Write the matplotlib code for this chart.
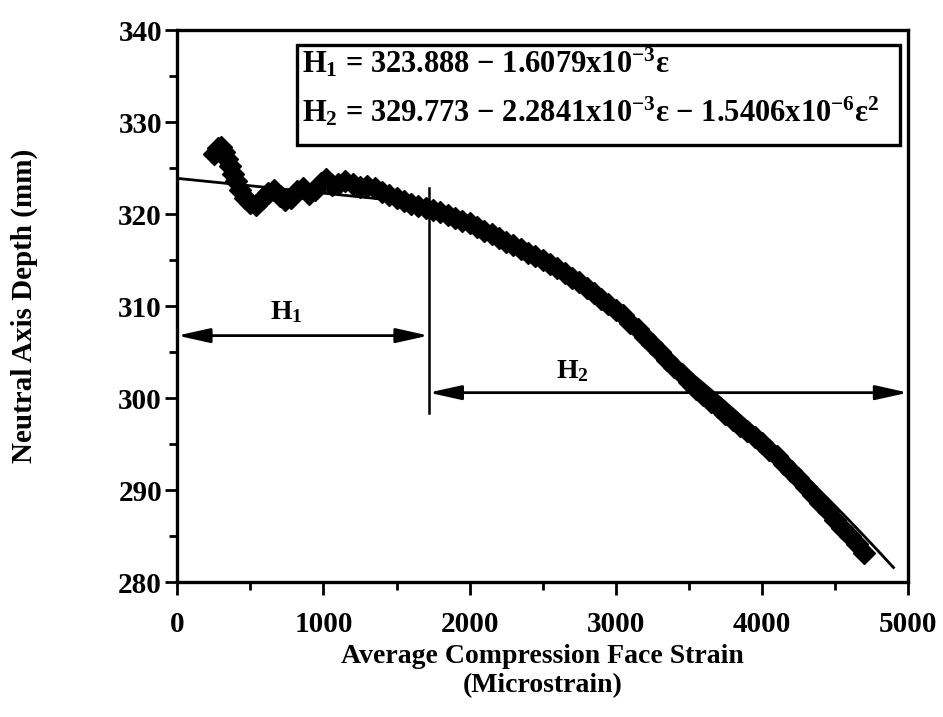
import numpy as np
import matplotlib.pyplot as plt
from matplotlib.patches import Rectangle
from matplotlib.ticker import MultipleLocator

# measured neutral axis depth vs. compression face strain
strain = [250, 280, 300, 320, 340, 360, 380, 400, 430, 460, 500, 540, 580, 620,
          660, 700, 740, 780, 820, 860, 900, 940, 980, 1020, 1060, 1100, 1150,
          1200, 1250, 1300, 1350, 1400, 1450, 1500, 1550, 1600, 1650, 1700,
          1750, 1800, 1850, 1900, 1950, 2000, 2050, 2100, 2150, 2200, 2250,
          2300, 2350, 2400, 2450, 2500, 2550, 2600, 2650, 2700, 2750, 2800,
          2850, 2900, 2950, 3000, 3050, 3100, 3150, 3200, 3250, 3300, 3350,
          3400, 3450, 3500, 3550, 3600, 3650, 3700, 3750, 3800, 3850, 3900,
          3950, 4000, 4050, 4100, 4150, 4200, 4250, 4300, 4350, 4400, 4450,
          4500, 4550, 4600, 4650, 4700]
depth = [326.5, 327.2, 327.3, 326.8, 326.0, 325.2, 324.4, 323.6, 322.6, 321.8,
         321.2, 321.0, 321.6, 322.3, 322.6, 322.0, 321.5, 321.8, 322.5, 322.8,
         322.2, 322.6, 323.4, 323.8, 323.2, 323.3, 323.6, 323.3, 323.0, 323.1,
         322.8, 322.4, 322.1, 321.8, 321.4, 321.1, 320.9, 320.7, 320.4, 320.2,
         319.9, 319.6, 319.3, 319.0, 318.6, 318.2, 317.8, 317.4, 317.0, 316.6,
         316.2, 315.8, 315.4, 315.0, 314.6, 314.1, 313.6, 313.1, 312.6, 312.0,
         311.4, 310.8, 310.2, 309.6, 309.0, 308.2, 307.5, 306.7, 305.9, 305.0,
         304.2, 303.4, 302.6, 301.8, 301.0, 300.3, 299.6, 299.0, 298.3, 297.6,
         297.0, 296.4, 295.8, 295.1, 294.4, 293.7, 292.9, 292.1, 291.3, 290.4,
         289.5, 288.6, 287.7, 286.8, 285.9, 285.0, 284.1, 283.2]

# fitted coefficients
h1_coef = [323.888, -1.6079e-3]
h2_coef = [329.773, -2.2841e-3, -1.5406e-6]
split = 1720
h2_end = 4900

eq_lines = ['H$_1$ = 323.888 \u2212 1.6079x10$^{-3}$\u03b5',
            'H$_2$ = 329.773 \u2212 2.2841x10$^{-3}$\u03b5 \u2212 1.5406x10$^{-6}$\u03b5$^2$']

plt.rcParams['font.family'] = ['Liberation Serif', 'DejaVu Serif']
plt.rcParams['font.weight'] = 'bold'
plt.rcParams['mathtext.fontset'] = 'custom'
plt.rcParams['mathtext.rm'] = 'Liberation Serif:bold'
plt.rcParams['mathtext.it'] = 'Liberation Serif:bold:italic'
plt.rcParams['mathtext.bf'] = 'Liberation Serif:bold'

fig = plt.figure(figsize=(9.43, 7.17), dpi=100)
ax = fig.add_axes([0.188, 0.188, 0.775, 0.770])

ax.plot(strain, depth, 'D', color='black', ms=11, zorder=3)

e1 = np.linspace(0, split, 50)
ax.plot(e1, h1_coef[0] + h1_coef[1] * e1, color='black', lw=2, zorder=4)
e2 = np.linspace(split, h2_end, 200)
ax.plot(e2, h2_coef[0] + h2_coef[1] * e2 + h2_coef[2] * e2 ** 2,
        color='black', lw=2, zorder=4)

# range markers for the two fits
ax.plot([split, split], [298.4, 322.8], color='black', lw=1.8, zorder=4)
arrow = dict(arrowstyle='<|-|>,head_length=0.9,head_width=0.2', color='black',
             lw=2, mutation_scale=22, shrinkA=0, shrinkB=0)
ax.annotate('', xy=(0, 306.8), xytext=(split, 306.8), arrowprops=arrow)
ax.annotate('', xy=(split, 300.6), xytext=(5000, 300.6), arrowprops=arrow)
ax.text(745, 309.3, 'H$_1$', fontsize=20, ha='center', va='center')
ax.text(2700, 302.9, 'H$_2$', fontsize=20, ha='center', va='center')

# equation box
ax.add_patch(Rectangle((0.164, 0.792), 0.825, 0.181, transform=ax.transAxes,
                       fc='white', ec='black', lw=2.4, zorder=5))
ax.text(0.171, 0.924, eq_lines[0], transform=ax.transAxes, fontsize=22,
        va='baseline', ha='left', zorder=6)
ax.text(0.171, 0.834, eq_lines[1], transform=ax.transAxes, fontsize=22,
        va='baseline', ha='left', zorder=6)

ax.set_xlim(0, 5000)
ax.set_ylim(280, 340)
ax.xaxis.set_major_locator(MultipleLocator(1000))
ax.xaxis.set_minor_locator(MultipleLocator(500))
ax.yaxis.set_major_locator(MultipleLocator(10))
ax.yaxis.set_minor_locator(MultipleLocator(5))
ax.tick_params(which='major', direction='out', length=9, width=2,
               labelsize=21)
ax.tick_params(axis='x', which='major', pad=12)
ax.tick_params(axis='y', which='major', pad=2)
ax.tick_params(which='minor', direction='out', length=6, width=2)
for lab in ax.get_xticklabels() + ax.get_yticklabels():
    lab.set_fontweight('bold')
for sp in ax.spines.values():
    sp.set_linewidth(2.4)

ax.set_xlabel('Average Compression Face Strain\n(Microstrain)', fontsize=20,
              fontweight='bold', linespacing=1.2)
ax.xaxis.set_label_coords(0.5, -0.112)
ax.set_ylabel('Neutral Axis Depth (mm)', fontsize=21, fontweight='bold')
ax.yaxis.set_label_coords(-0.19, 0.5)

fig.savefig('out.png', dpi=100)
